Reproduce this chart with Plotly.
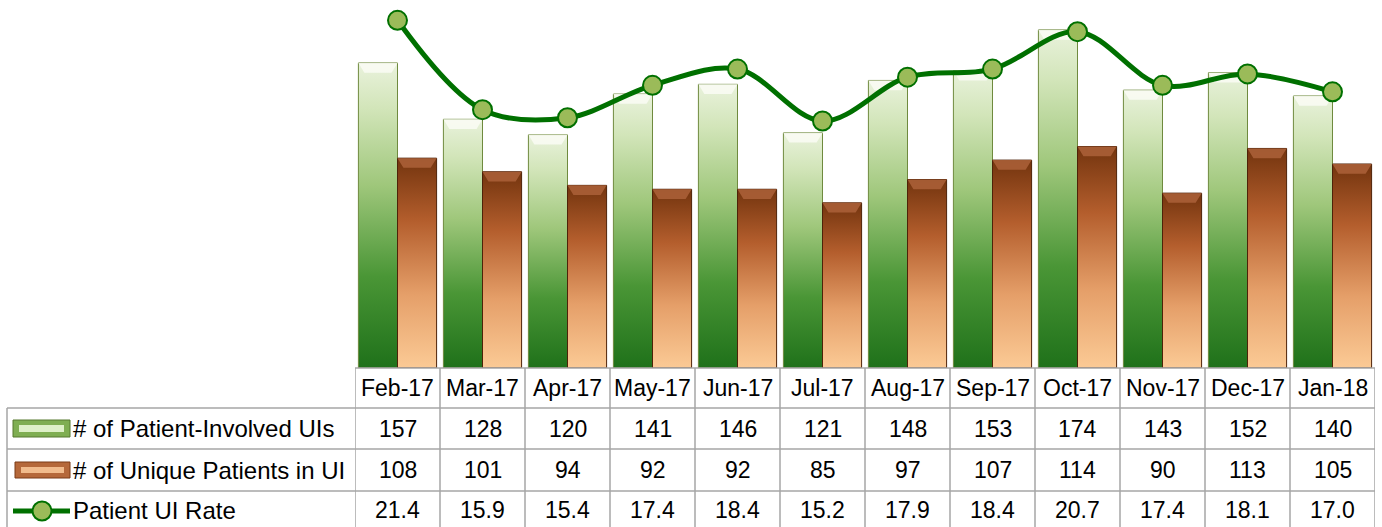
import plotly.graph_objects as go

# ---------------- data ----------------
months = ["Feb-17", "Mar-17", "Apr-17", "May-17", "Jun-17", "Jul-17",
          "Aug-17", "Sep-17", "Oct-17", "Nov-17", "Dec-17", "Jan-18"]
patient_involved_uis = [157, 128, 120, 141, 146, 121, 148, 153, 174, 143, 152, 140]
unique_patients = [108, 101, 94, 92, 92, 85, 97, 107, 114, 90, 113, 105]
ui_rate = [21.4, 15.9, 15.4, 17.4, 18.4, 15.2, 17.9, 18.4, 20.7, 17.4, 18.1, 17.0]
row_labels = ["# of Patient-Involved UIs", "# of Unique Patients in UI", "Patient UI Rate"]
rate_text = ["%.1f" % v for v in ui_rate]

# ---------------- layout constants (pixels) ----------------
W, H = 1382, 527
PL, PR, PT, PB = 355, 1375, 0, 368        # plot area
Y1_MAX = 189.4
Y2_MAX = 22.65
BAR_W = 0.46
BEVEL_Y = 5.0
BEVEL_X = 0.07
FONT = "Liberation Sans"
FS = 23
FS_LABEL = 24

def px2x(p):
    return (p - PL) / (PR - PL)

def py2y(p):
    return (PB - p) / (PB - PT)

GREEN_CS = [[0, "#1f711a"], [0.3, "#4a9636"], [0.6, "#9fc77b"], [0.85, "#d2e5b9"], [1, "#e9f2dc"]]
BROWN_CS = [[0, "#fbca95"], [0.35, "#e59f69"], [0.7, "#b45e2d"], [1, "#73340e"]]

fig = go.Figure()

idx = list(range(len(months)))

def add_bar(i, v, x0, x1, cs, edge, bevel):
    fig.add_trace(go.Scatter(
        x=[x0, x0, x1, x1, x0], y=[0, v, v, 0, 0], mode="lines",
        fill="toself", fillgradient=dict(type="vertical", colorscale=cs),
        line=dict(color=edge, width=1), hoverinfo="skip", showlegend=False))
    fig.add_trace(go.Scatter(
        x=[x0, x0 + BEVEL_X, x1 - BEVEL_X, x1, x0],
        y=[v, v - BEVEL_Y, v - BEVEL_Y, v, v], mode="lines",
        fill="toself", fillcolor=bevel, line=dict(width=0),
        hoverinfo="skip", showlegend=False))

for i, v in zip(idx, patient_involved_uis):
    add_bar(i, v, i - BAR_W, i, GREEN_CS, "#6f8a3e", "rgba(250,252,244,0.85)")
for i, v in zip(idx, unique_patients):
    add_bar(i, v, i, i + BAR_W, BROWN_CS, "#4e2208", "rgba(170,95,55,0.9)")

fig.add_trace(go.Scatter(
    x=idx, y=ui_rate, yaxis="y2", mode="lines+markers", name=row_labels[2],
    line=dict(shape="spline", smoothing=1, color="#007000", width=5),
    marker=dict(size=19, color="#9bbb59", line=dict(color="#007000", width=2)),
    showlegend=False))

# ---------------- data table ----------------
shapes = []
annotations = []
GRID = dict(color="#a6a6a6", width=1.5)

# horizontal lines
shapes.append(dict(type="line", xref="paper", yref="paper",
                   x0=px2x(PL), x1=px2x(PR), y0=py2y(368), y1=py2y(368), line=GRID))
for yy in [408, 449, 491]:
    shapes.append(dict(type="line", xref="paper", yref="paper",
                       x0=px2x(7), x1=px2x(PR), y0=py2y(yy), y1=py2y(yy), line=GRID))
# vertical lines
for k in range(len(months) + 1):
    shapes.append(dict(type="line", xref="x", yref="paper",
                       x0=k - 0.5, x1=k - 0.5, y0=py2y(368), y1=py2y(H + 2), line=GRID))
shapes.append(dict(type="line", xref="paper", yref="paper",
                   x0=px2x(7), x1=px2x(7), y0=py2y(408), y1=py2y(H + 2), line=GRID))

row_y = [428.5, 470, 510]
hdr_y = 388
for i, m in enumerate(months):
    annotations.append(dict(x=i, y=py2y(hdr_y), xref="x", yref="paper", text=m,
                            showarrow=False, xanchor="center", yanchor="middle",
                            font=dict(family=FONT, size=FS, color="black")))
    for r, vals in enumerate([patient_involved_uis, unique_patients, rate_text]):
        annotations.append(dict(x=i, y=py2y(row_y[r]), xref="x", yref="paper",
                                text=str(vals[i]), showarrow=False,
                                xanchor="center", yanchor="middle",
                                font=dict(family=FONT, size=FS, color="black")))
for r, lab in enumerate(row_labels):
    annotations.append(dict(x=px2x(71), y=py2y(row_y[r]), xref="paper", yref="paper",
                            text=lab, showarrow=False, xanchor="left", yanchor="middle",
                            font=dict(family=FONT, size=FS_LABEL, color="black")))

# legend keys inside the table
shapes += [
    dict(type="rect", xref="paper", yref="paper", x0=px2x(13), x1=px2x(70),
         y0=py2y(437), y1=py2y(420), fillcolor="#7fae52", line=dict(color="#56782f", width=1)),
    dict(type="rect", xref="paper", yref="paper", x0=px2x(19), x1=px2x(64),
         y0=py2y(432), y1=py2y(425), fillcolor="#def0c8", line=dict(width=0)),
    dict(type="rect", xref="paper", yref="paper", x0=px2x(15), x1=px2x(70),
         y0=py2y(478), y1=py2y(462), fillcolor="#b5683a", line=dict(color="#7a3a16", width=1)),
    dict(type="rect", xref="paper", yref="paper", x0=px2x(21), x1=px2x(64),
         y0=py2y(473), y1=py2y(467), fillcolor="#f1bb8c", line=dict(width=0)),
    dict(type="line", xref="paper", yref="paper", x0=px2x(13), x1=px2x(70),
         y0=py2y(511), y1=py2y(511), line=dict(color="#007000", width=5)),
    dict(type="circle", xref="paper", yref="paper", x0=px2x(32.5), x1=px2x(51.5),
         y0=py2y(520.5), y1=py2y(501.5), fillcolor="#9bbb59",
         line=dict(color="#007000", width=2)),
]

fig.update_layout(
    width=W, height=H, autosize=False,
    margin=dict(l=PL, r=W - PR, t=PT, b=H - PB, pad=0),
    paper_bgcolor="white", plot_bgcolor="white",
    showlegend=False,
    xaxis=dict(range=[-0.5, len(months) - 0.5], visible=False, fixedrange=True),
    yaxis=dict(range=[0, Y1_MAX], visible=False, fixedrange=True),
    yaxis2=dict(range=[0, Y2_MAX], overlaying="y", side="right", visible=False, fixedrange=True),
    shapes=shapes, annotations=annotations,
)

fig.write_html("out.html", config={"displayModeBar": False},
               post_script="document.body.style.margin='0';")
